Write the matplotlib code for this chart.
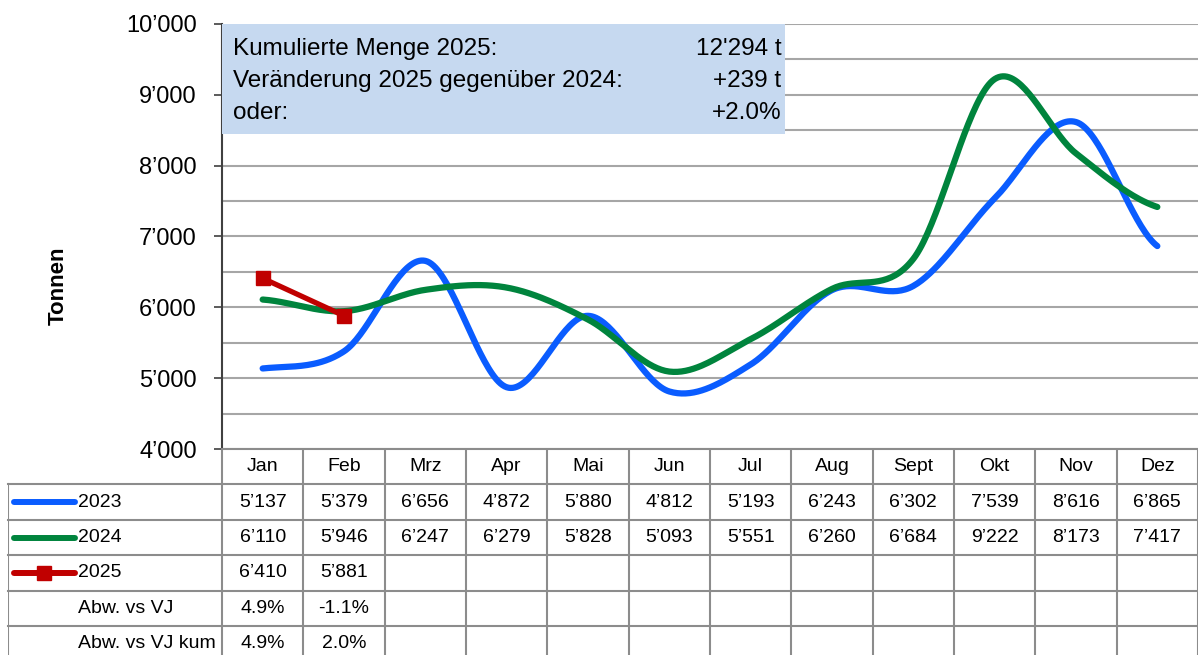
import numpy as np
import matplotlib.pyplot as plt
from matplotlib.patches import Rectangle

plt.rcParams['font.family'] = ['Liberation Sans', 'DejaVu Sans']

months = ['Jan', 'Feb', 'Mrz', 'Apr', 'Mai', 'Jun', 'Jul', 'Aug', 'Sept', 'Okt', 'Nov', 'Dez']
t2023 = [5137, 5379, 6656, 4872, 5880, 4812, 5193, 6243, 6302, 7539, 8616, 6865]
t2024 = [6110, 5946, 6247, 6279, 5828, 5093, 5551, 6260, 6684, 9222, 8173, 7417]
t2025 = [6410, 5881]
abw_vj = [4.9, -1.1]
abw_vj_kum = [4.9, 2.0]

box_labels = ['Kumulierte Menge 2025:', 'Veränderung 2025 gegenüber 2024:', 'oder:']
box_values = ["12'294 t", '+239 t', '+2.0%']

C_2023 = '#0A5CFF'
C_2024 = '#00843D'
C_2025 = '#C00000'
GRID_C = '#A6A6A6'
TAB_C = '#8C8C8C'
BOX_C = '#C6D9F0'

W, H = 1198, 655


def fmt(v):
    return f'{v:,}'.replace(',', '\u2019')


def smooth(vals, n=40):
    # excel-like smoothed line (catmull-rom)
    p = np.asarray(vals, float)
    p = np.concatenate([[p[0]], p, [p[-1]]])
    xs, ys = [], []
    for i in range(1, len(p) - 2):
        t = np.linspace(0, 1, n, endpoint=False)
        p0, p1, p2, p3 = p[i - 1], p[i], p[i + 1], p[i + 2]
        y = 0.5 * ((2 * p1) + (-p0 + p2) * t + (2 * p0 - 5 * p1 + 4 * p2 - p3) * t ** 2
                   + (-p0 + 3 * p1 - 3 * p2 + p3) * t ** 3)
        xs.append(i - 1 + t)
        ys.append(y)
    xs.append([len(vals) - 1])
    ys.append([vals[-1]])
    return np.concatenate(xs), np.concatenate(ys)


fig = plt.figure(figsize=(W / 100, H / 100), dpi=100)

# plot area
ax_l, ax_r, ax_t, ax_b = 222, 1198, 24, 449
ax = fig.add_axes([ax_l / W, 1 - ax_b / H, (ax_r - ax_l) / W, (ax_b - ax_t) / H])
x = np.arange(len(months))

xs, ys = smooth(t2023)
ax.plot(xs, ys, color=C_2023, lw=4.5, solid_capstyle='round', zorder=4)
xs, ys = smooth(t2024)
ax.plot(xs, ys, color=C_2024, lw=4.5, solid_capstyle='round', zorder=5)
ax.plot(x[:len(t2025)], t2025, color=C_2025, lw=3.8, marker='s', ms=10, zorder=6)

ax.set_xlim(-0.5, len(months) - 0.5)
ax.set_ylim(4000, 10000)
ax.set_yticks(np.arange(4000, 10001, 1000))
ax.set_yticks(np.arange(4500, 10000, 1000), minor=True)
ax.set_yticklabels([fmt(v) for v in range(4000, 10001, 1000)], fontsize=17)
ax.set_xticks([])
ax.grid(axis='y', which='both', color=GRID_C, lw=1.5, zorder=1)
ax.set_axisbelow(True)
ax.tick_params(axis='y', which='major', length=6, width=1.2, color='#404040', pad=12)
ax.tick_params(axis='y', which='minor', length=0)
for s in ['top', 'right']:
    ax.spines[s].set_visible(False)
ax.spines['left'].set_color('#404040')
ax.spines['left'].set_linewidth(1.5)
ax.spines['bottom'].set_color(TAB_C)
ax.spines['bottom'].set_linewidth(1.5)
ax.set_ylabel('Tonnen', fontsize=16, fontweight='bold')
ax.yaxis.set_label_coords(-0.157, 0.384)

# info box
ax.add_patch(Rectangle((0, 0.741), 0.577, 0.259, transform=ax.transAxes,
                       color=BOX_C, lw=0, zorder=3))
for i, (lab, val) in enumerate(zip(box_labels, box_values)):
    yy = 0.942 - i * 0.076
    ax.text(0.011, yy, lab, transform=ax.transAxes, fontsize=17.5, va='center', ha='left', zorder=4)
    ax.text(0.573, yy, val, transform=ax.transAxes, fontsize=17.5, va='center', ha='right', zorder=4)

# data table below the plot
col_w = (ax_r - ax_l) / len(months)
lab_w = (ax_l - 8) / col_w
row_h = 35.4
tab = fig.add_axes([8 / W, 0, (W - 8) / W, (H - ax_b) / H])
tab.set_xlim(-0.5 - lab_w, len(months) - 0.5)
n_vis = (H - ax_b) / row_h
tab.set_ylim(n_vis, 0)
tab.axis('off')

left = -0.5 - lab_w
for r in range(1, 6):
    tab.plot([left, len(months) - 0.5], [r, r], color=TAB_C, lw=1.5, clip_on=False)
tab.plot([left, left], [1, n_vis], color=TAB_C, lw=1.5)
for k in range(len(months) + 1):
    tab.plot([k - 0.5, k - 0.5], [0, n_vis], color=TAB_C, lw=1.5)

for i, m in enumerate(months):
    tab.text(i, 0.5, m, ha='center', va='center', fontsize=14)

rows = [t2023, t2024, t2025]
row_names = ['2023', '2024', '2025']
row_cols = [C_2023, C_2024, C_2025]
key_x0, key_x1 = left + 6 / col_w, left + 67 / col_w
text_x = left + 70 / col_w
for r, (vals, name, c) in enumerate(zip(rows, row_names, row_cols), start=1):
    yc = r + 0.5
    tab.plot([key_x0, key_x1], [yc, yc], color=c, lw=4.3, solid_capstyle='round')
    if name == '2025':
        tab.plot([(key_x0 + key_x1) / 2], [yc], color=c, marker='s', ms=10)
    tab.text(text_x, yc, name, ha='left', va='center', fontsize=14)
    for i, v in enumerate(vals):
        tab.text(i, yc, fmt(v), ha='center', va='center', fontsize=14)

for r, (name, vals) in enumerate([('Abw. vs VJ', abw_vj), ('Abw. vs VJ kum', abw_vj_kum)], start=4):
    yc = r + 0.5
    tab.text(text_x, yc, name, ha='left', va='center', fontsize=14)
    for i, v in enumerate(vals):
        tab.text(i, yc, f'{v:.1f}%', ha='center', va='center', fontsize=14)

fig.savefig('out.png', dpi=100)
